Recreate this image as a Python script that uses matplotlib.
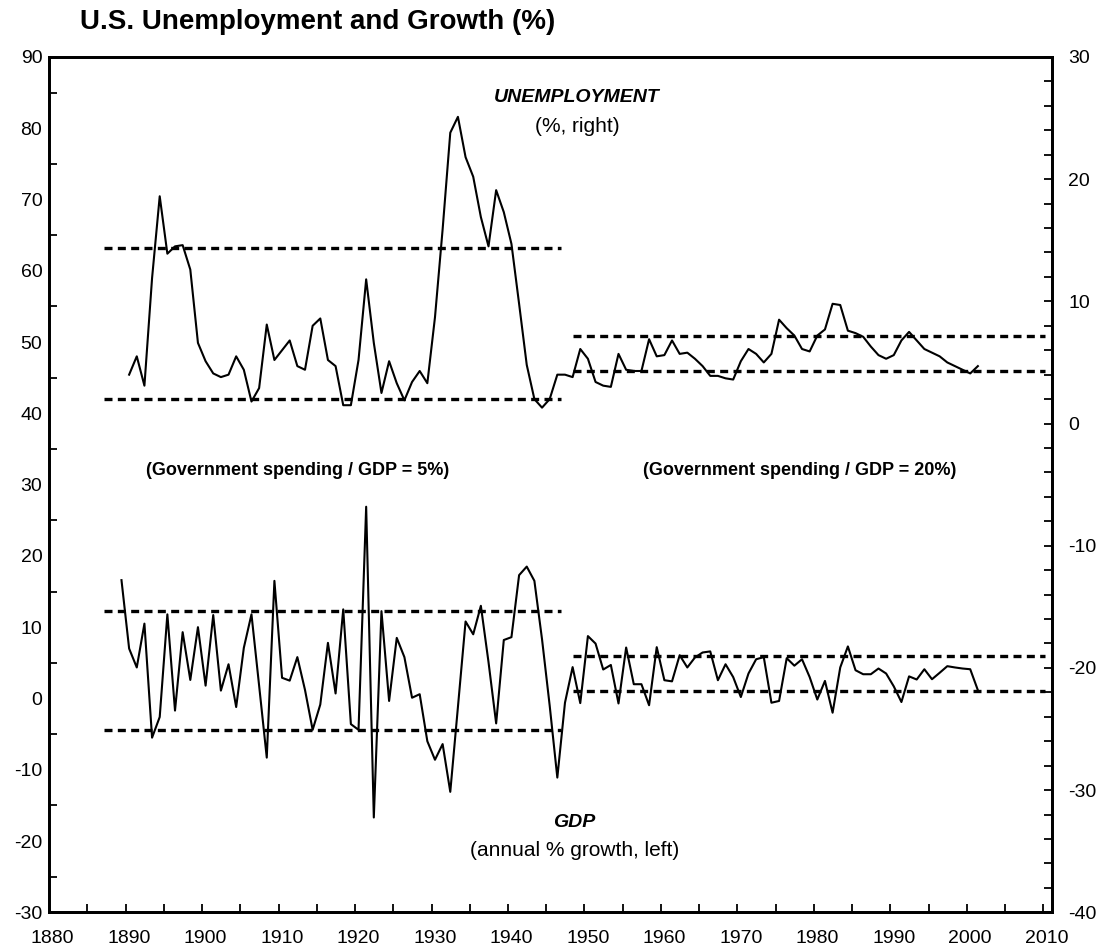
import numpy as np
import matplotlib
matplotlib.use("Agg")
import matplotlib.pyplot as plt
from matplotlib.ticker import FixedLocator

plt.rcParams['font.family'] = ['Liberation Sans', 'DejaVu Sans']
plt.rcParams['axes.unicode_minus'] = False

# unemployment rate, % (right axis), 1890-2001
unemp_years = list(range(1890, 2002))
unemp = [4.0, 5.5, 3.1, 11.9, 18.6, 13.9, 14.5, 14.6, 12.6, 6.6,
         5.1, 4.1, 3.8, 4.0, 5.5, 4.4, 1.8, 2.9, 8.1, 5.2,
         6.0, 6.8, 4.7, 4.4, 8.0, 8.6, 5.2, 4.7, 1.5, 1.5,
         5.2, 11.8, 6.6, 2.5, 5.1, 3.3, 1.9, 3.4, 4.3, 3.3,
         8.7, 15.9, 23.8, 25.1, 21.8, 20.2, 16.9, 14.5, 19.1, 17.3,
         14.7, 9.8, 4.8, 2.0, 1.3, 2.0, 4.0, 4.0, 3.8, 6.1,
         5.3, 3.4, 3.1, 3.0, 5.7, 4.4, 4.3, 4.3, 6.9, 5.5,
         5.6, 6.8, 5.7, 5.8, 5.3, 4.7, 3.9, 3.9, 3.7, 3.6,
         5.1, 6.1, 5.7, 5.0, 5.7, 8.5, 7.8, 7.2, 6.1, 5.9,
         7.2, 7.7, 9.8, 9.7, 7.6, 7.4, 7.1, 6.3, 5.6, 5.3,
         5.6, 6.8, 7.5, 6.8, 6.1, 5.8, 5.5, 5.0, 4.7, 4.4,
         4.1, 4.7]

# real GDP growth, % (left axis), 1889-2001
gdp_years = list(range(1889, 2002))
gdp = [16.6,
       7.0, 4.35, 10.5, -5.5, -2.6, 11.8, -1.7, 9.3, 2.6, 10.0,
       1.8, 11.7, 1.1, 4.8, -1.2, 7.1, 11.8, 1.8, -8.3, 16.5,
       2.9, 2.5, 5.8, 1.2, -4.4, -0.85, 7.8, 0.7, 12.5, -3.6,
       -4.4, 26.9, -16.7, 12.25, -0.35, 8.5, 5.8, 0.1, 0.6, -6.0,
       -8.6, -6.4, -13.1, -1.2, 10.8, 9.0, 13.0, 5.1, -3.5, 8.2,
       8.6, 17.3, 18.5, 16.5, 8.3, -1.0, -11.1, -0.6, 4.4, -0.65,
       8.75, 7.7, 4.06, 4.7, -0.7, 7.15, 2.0, 2.0, -0.95, 7.2,
       2.56, 2.4, 6.07, 4.35, 5.75, 6.45, 6.6, 2.56, 4.8, 3.0,
       0.2, 3.5, 5.5, 5.8, -0.6, -0.35, 5.65, 4.6, 5.5, 3.0,
       -0.15, 2.46, -2.0, 4.35, 7.3, 3.96, 3.4, 3.4, 4.2, 3.5,
       1.7, -0.5, 3.1, 2.66, 4.1, 2.7, 3.6, 4.53, 4.35, 4.2,
       4.1, 1.16]

# band limits for each era
era_spans = [(1886.7, 1946.5), (1948.0, 2009.8)]
unemp_bands = [(2.0, 14.4), (4.3, 7.2)]
gdp_bands = [(-4.45, 12.25), (1.0, 5.9)]

fig = plt.figure(figsize=(10.98, 9.51), dpi=100)
ax = fig.add_axes([0.0449, 0.0407, 0.9129, 0.8994])
ax2 = ax.twinx()

dash = (0, (2.4, 1.6))
ax.plot(gdp_years, gdp, color='black', lw=1.5)
ax2.plot(unemp_years, unemp, color='black', lw=1.5)
for (x0, x1), (lo, hi) in zip(era_spans, gdp_bands):
    ax.plot([x0, x1], [lo, lo], color='black', lw=2.4, ls=dash)
    ax.plot([x0, x1], [hi, hi], color='black', lw=2.4, ls=dash)
for (x0, x1), (lo, hi) in zip(era_spans, unemp_bands):
    ax2.plot([x0, x1], [lo, lo], color='black', lw=2.4, ls=dash)
    ax2.plot([x0, x1], [hi, hi], color='black', lw=2.4, ls=dash)

ax.set_xlim(1879.56, 2010.65)
ax.set_ylim(-30, 90)
ax2.set_ylim(-40, 30)

# x axis: labels every decade, tick marks offset as in the original
ax.set_xticks(np.arange(1880, 2011, 10))
ax.xaxis.set_minor_locator(FixedLocator(1884.55 + 5 * np.arange(26)))
ax.tick_params(axis='x', which='major', length=0, pad=13, labelsize=14)
ax.tick_params(axis='x', which='minor', length=6, width=1.3, direction='in')

ax.set_yticks(np.arange(-30, 91, 10))
ax.yaxis.set_minor_locator(FixedLocator(np.arange(-25, 90, 10)))
ax.tick_params(axis='y', which='major', length=0, pad=5, labelsize=14)
ax.tick_params(axis='y', which='minor', length=6, width=1.3, direction='in')

ax2.set_yticks(np.arange(-40, 31, 10))
ax2.yaxis.set_minor_locator(FixedLocator(np.arange(-40, 31, 2)))
ax2.tick_params(axis='y', which='major', length=6, width=1.3, direction='in', pad=12, labelsize=14)
ax2.tick_params(axis='y', which='minor', length=6, width=1.3, direction='in')

for a in (ax, ax2):
    for s in a.spines.values():
        s.set_linewidth(2)

fig.text(0.073, 0.977, 'U.S. Unemployment and Growth (%)', fontsize=20,
         fontweight='bold', va='center', ha='left')

ax.text(1948.6, 84.25, 'UNEMPLOYMENT', fontsize=14, fontweight='bold',
        fontstyle='italic', ha='center', va='center')
ax.text(1948.6, 80.2, '(%, right)', fontsize=15, ha='center', va='center')
ax.text(1912.0, 32.0, '(Government spending / GDP = 5%)', fontsize=13,
        fontweight='bold', ha='center', va='center')
ax.text(1977.7, 32.0, '(Government spending / GDP = 20%)', fontsize=13,
        fontweight='bold', ha='center', va='center')
ax.text(1948.2, -17.4, 'GDP', fontsize=14, fontweight='bold',
        fontstyle='italic', ha='center', va='center')
ax.text(1948.2, -21.4, '(annual % growth, left)', fontsize=15,
        ha='center', va='center')

fig.savefig('out.png', dpi=100)
